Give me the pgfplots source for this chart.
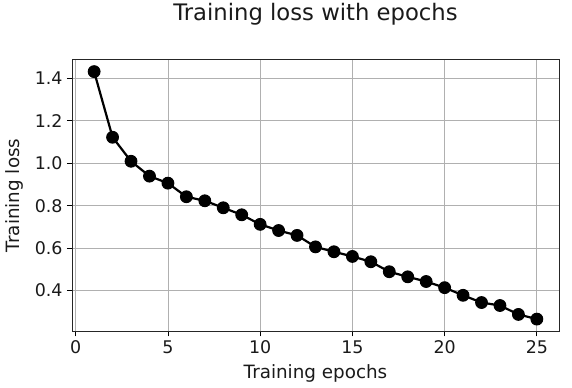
\documentclass[border=0pt]{standalone}
\usepackage{fontspec}
\setmainfont{DejaVu Sans}
\usepackage{pgfplots}
\pgfplotsset{compat=1.18}
\definecolor{gridgray}{HTML}{B0B0B0}
\definecolor{txt}{HTML}{1A1A1A}
\begin{document}
\begin{tikzpicture}
\begin{axis}[
  at={(0,0)}, anchor=south west,
  scale only axis,
  width=487bp, height=272bp,
  xmin=-0.2, xmax=26.2,
  ymin=0.2078, ymax=1.4882,
  xtick={0,5,10,15,20,25},
  ytick={0.4,0.6,0.8,1.0,1.2,1.4},
  xtick pos=bottom, ytick pos=left,
  yticklabel style={/pgf/number format/fixed,/pgf/number format/fixed zerofill,/pgf/number format/precision=1},
  /pgf/number format/assume math mode=true,
  tick label style={font=\fontsize{17.5}{20}\selectfont, text=txt},
  xticklabel style={yshift=-1bp},
  yticklabel style={xshift=-1bp},
  tick align=outside,
  major tick length=5bp,
  tick style={black, line width=0.8bp},
  axis line style={black!85, line width=0.8bp},
  grid=major,
  major grid style={gridgray, line width=0.8bp},
  xlabel={Training epochs},
  ylabel={Training loss},
  xlabel style={font=\fontsize{18.4}{22}\selectfont, text=txt, at={(axis description cs:0.5,-0.174)}, anchor=base},
  ylabel style={font=\fontsize{18.4}{22}\selectfont, text=txt, at={(axis description cs:-0.118,0.5)}, anchor=center},
  title={Training loss with epochs},
  title style={font=\fontsize{22.8}{27}\selectfont, text=txt, at={(axis description cs:0.5,1.121)}, anchor=base},
]
\addplot[black, line width=2.2bp, mark=*, mark size=5.9bp, mark options={fill=black, line width=1bp}] coordinates {
(1,1.431) (2,1.122) (3,1.009) (4,0.939) (5,0.906) (6,0.842) (7,0.823) (8,0.790) (9,0.757) (10,0.712)
(11,0.683) (12,0.660) (13,0.606) (14,0.583) (15,0.561) (16,0.536) (17,0.489) (18,0.465) (19,0.443) (20,0.414)
(21,0.378) (22,0.344) (23,0.330) (24,0.288) (25,0.266)
};
\end{axis}
\path[use as bounding box] (-72bp,-56bp) rectangle (500bp,326bp);
\end{tikzpicture}
\end{document}
